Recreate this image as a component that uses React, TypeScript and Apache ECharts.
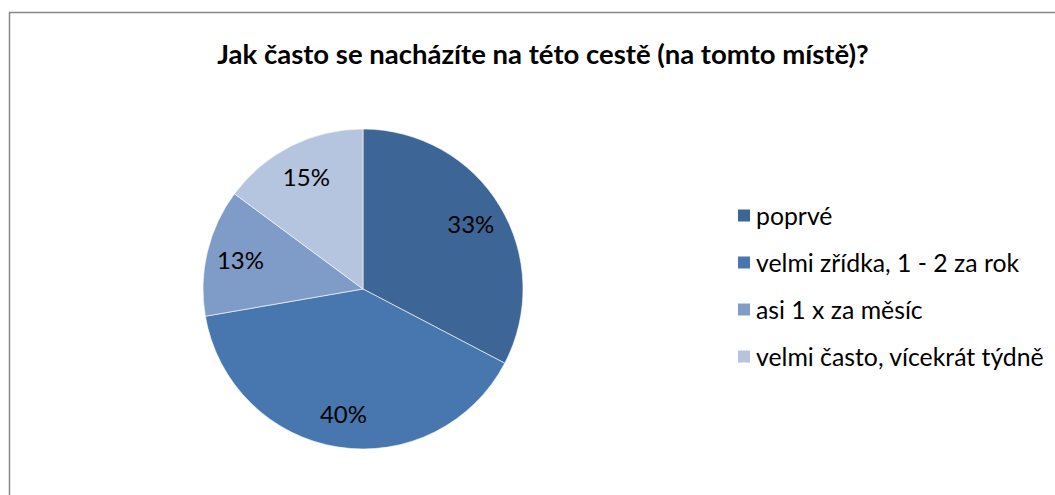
import React, { useEffect, useRef } from "react";
import * as echarts from "echarts";

const titleText = "Jak často se nacházíte na této cestě (na tomto místě)?";
const categories = [
  "poprvé",
  "velmi zřídka, 1 - 2 za rok",
  "asi 1 x za měsíc",
  "velmi často, vícekrát týdně",
];
const values = [33, 40, 13, 15];
const colors = ["#3D6595", "#4877B0", "#7F9CC9", "#B5C4DF"];

export default function App() {
  const ref = useRef<HTMLDivElement>(null);
  useEffect(() => {
    if (!ref.current) return;
    const chart = echarts.init(ref.current, undefined, { renderer: "svg" });
    const data = categories.map((name, i) => ({
      name,
      value: values[i],
      itemStyle: { color: colors[i] },
    }));
    const font = "Lato, 'Open Sans', sans-serif";
    chart.setOption({
      animation: false,
      backgroundColor: "#ffffff",
      title: {
        text: titleText,
        left: 538,
        top: 34,
        textAlign: "center",
        textStyle: { fontFamily: font, fontWeight: "bold", fontSize: 27.5, color: "#000" },
      },
      graphic: [
        {
          type: "rect",
          shape: { x: 9.5, y: 12.5, width: 1200, height: 700 },
          style: { fill: "none", stroke: "#878787", lineWidth: 1.5 },
          silent: true,
        },
      ],
      legend: {
        orient: "vertical",
        left: 731,
        top: 198,
        itemWidth: 14,
        itemHeight: 14,
        itemGap: 22,
        icon: "rect",
        textStyle: {
          fontFamily: font,
          fontSize: 24.8,
          lineHeight: 25,
          color: "#000",
          padding: [0, 0, 0, 0],
        },
        data: categories,
      },
      series: [
        {
          type: "pie",
          center: [363, 289],
          radius: 160,
          startAngle: 90,
          clockwise: true,
          label: { show: false },
          labelLine: { show: false },
          itemStyle: { borderColor: "#ffffff", borderWidth: 0.6 },
          emphasis: { disabled: true },
          data,
        },
        {
          type: "pie",
          center: [363, 289],
          radius: [86, 160],
          startAngle: 90,
          clockwise: true,
          silent: true,
          legendHoverLink: false,
          itemStyle: { color: "transparent", borderWidth: 0 },
          label: {
            show: true,
            position: "inside",
            formatter: "{c}%",
            fontFamily: font,
            fontSize: 24,
            color: "#000",
          },
          labelLine: { show: false },
          emphasis: { disabled: true },
          data: categories.map((name, i) => ({ name: name + " ", value: values[i] })),
        },
      ],
    });
    return () => chart.dispose();
  }, []);
  return (
    <div
      ref={ref}
      style={{ position: "fixed", left: 0, top: 0, width: 1055, height: 495 }}
    />
  );
}
